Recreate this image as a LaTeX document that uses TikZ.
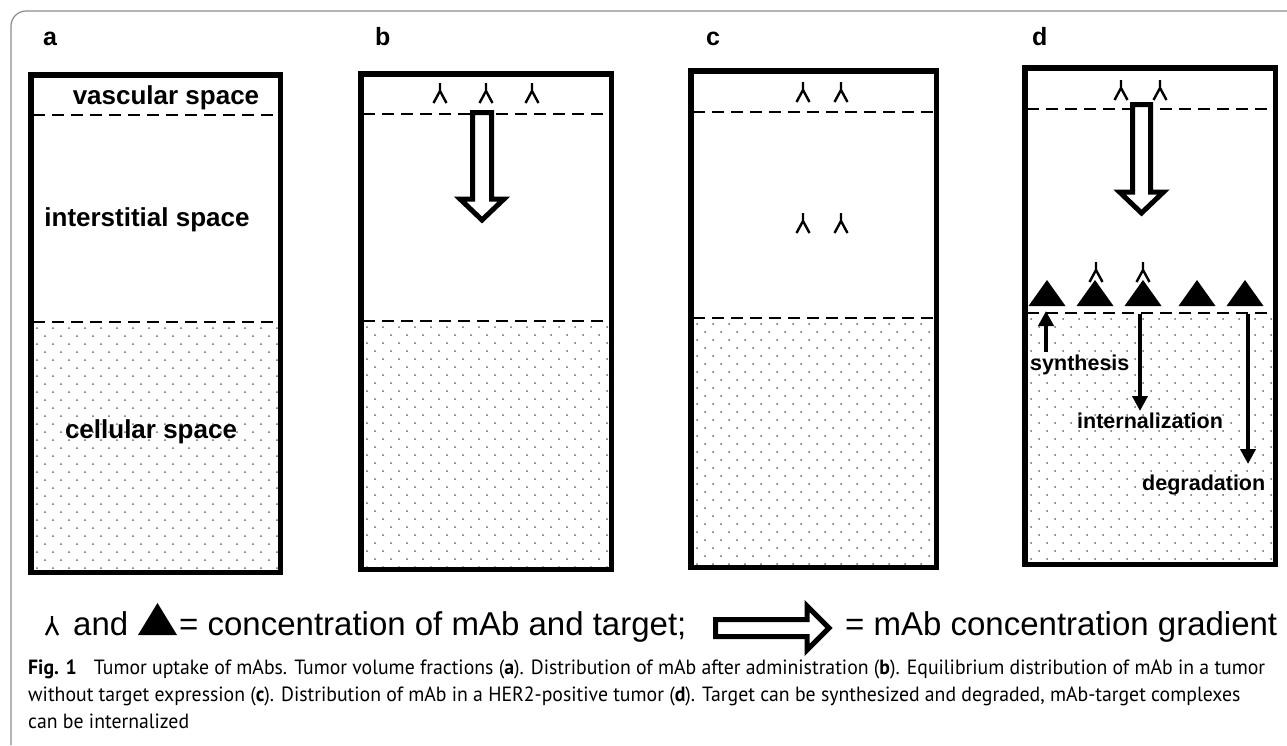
\documentclass[tikz,border=0pt]{standalone}
\usepackage{fontspec}
\setmainfont{Liberation Sans}
\newfontfamily\capfont{PT Sans}
\usetikzlibrary{arrows.meta}
\definecolor{dotc}{gray}{0.4}
\definecolor{framec}{gray}{0.55}
\newcommand\capfontsel{\capfont\fontsize{20.6}{23}\selectfont}
\newcommand\caplineone{\textbf{Fig. 1}\hspace{0.6em} Tumor uptake of mAbs. Tumor volume fractions (\textbf{a}). Distribution of mAb after administration (\textbf{b}). Equilibrium distribution of mAb in a tumor}
\newcommand\caplinetwo{without target expression (\textbf{c}). Distribution of mAb in a HER2-positive tumor (\textbf{d}). Target can be synthesized and degraded, mAb-target complexes}
\newcommand\caplinethree{can be internalized}
\newlength\capw
\tikzset{
  boxline/.style={line width=5.5pt, line join=miter},
  divline/.style={line width=2.6pt, dash pattern=on 12pt off 7pt},
  lbl/.style={font=\bfseries\fontsize{26}{28}\selectfont, inner sep=0pt},
  dlbl/.style={font=\bfseries\fontsize{21.5}{24}\selectfont, inner sep=0pt},
  panel/.style={font=\bfseries\fontsize{25}{28}\selectfont, inner sep=0pt, anchor=base west},
  legend/.style={font=\fontsize{33}{36}\selectfont, inner sep=0pt, anchor=base west},
  captxt/.style={font=\capfontsel, inner sep=0pt, anchor=base west},
  hollow/.style={line width=5pt, line join=miter, miter limit=10, fill=white, draw=black},
  thinarrow/.style={line width=4pt, -{Triangle[length=15pt,width=15pt]}},
  mab/.pic={\draw[line width=2.4pt] (0,0) -- (0,8) (-6.5,20) -- (0,8) -- (6.5,20);},
  target/.pic={\fill (-18.5,0) -- (18.5,0) -- (0,-26) -- cycle;}
}
\newcommand\stippleArea[4]{%
  \begin{scope}
    \clip (#1,#3) rectangle (#2,#4);
    \foreach \r in {0,...,34}{%
      \pgfmathsetmacro\yy{#3+4+8*\r}%
      \pgfmathsetmacro\off{mod(\r,2)*8}%
      \foreach \c in {0,...,17}{%
        \fill[dotc] ({#1+4+\off+16*\c},\yy) circle (1.0);
      }%
    }%
  \end{scope}}
\newcommand\tumorbox[7]{%
  \stippleArea{#1+5}{#2-5}{#6+2}{#4-5}
  \draw[divline] ({#1+5},#5) -- ({#2-5},#5);
  \draw[divline] ({#1+5},#6) -- ({#2-5},#6);
  \draw[boxline] ({#1+2.75},{#3+2.75}) coordinate (#7-nw) rectangle ({#2-2.75},{#4-2.75}) coordinate (#7-se);
}
\begin{document}
\settowidth\capw{\capfontsel\caplineone}%
\pgfmathsetmacro\capscale{1237/\capw}%
\begin{tikzpicture}[x=1pt,y=-1pt]
\useasboundingbox (0,0) rectangle (1287,745);
\fill[white] (0,0) rectangle (1287,745);
% outer frame
\draw[framec, line width=1.2pt, rounded corners=15pt] (11,745) -- (11,11) -- (1287,11);

% panel letters
\node[panel] (la) at (43,45) {a};
\node[panel] (lb) at (375,45) {b};
\node[panel] (lc) at (706,45) {c};
\node[panel] (ld) at (1032,45) {d};

% boxes
\tumorbox{28}{283}{72}{575}{115}{322}{A}
\tumorbox{358}{614}{71}{572}{114}{321}{B}
\tumorbox{688}{939}{68}{570}{112}{318}{C}
\tumorbox{1022}{1278}{65}{567}{109}{313}{D}

% panel a labels
\node[lbl, anchor=base] (vasc) at (166,104) {vascular space};
\node[lbl, anchor=base] (inter) at (147,226) {interstitial space};
\node[lbl, anchor=base] (cell) at (151,438) {cellular space};

% panel b
\pic at (440,83) {mab};
\pic at (486,83) {mab};
\pic at (532,83) {mab};
\draw[hollow] (472.5,112.5) -- (491.5,112.5) -- (491.5,199) -- (504,199) -- (482,220) -- (460,199) -- (472.5,199) -- cycle;

% panel c
\pic at (803,82) {mab};
\pic at (841,82) {mab};
\pic at (803,213) {mab};
\pic at (841,213) {mab};

% panel d
\pic at (1121,80) {mab};
\pic at (1160,80) {mab};
\draw[hollow] (1132.5,104.5) -- (1150.5,104.5) -- (1150.5,192) -- (1163.5,192) -- (1141.5,213) -- (1119.5,192) -- (1132.5,192) -- cycle;
\pic at (1047,306) {target};
\pic at (1095,306) {target};
\pic at (1143,306) {target};
\pic at (1197,306) {target};
\pic at (1245,306) {target};
\pic at (1096,262) {mab};
\pic at (1143,262) {mab};
\coordinate (synA) at (1046,352);
\coordinate (synB) at (1046,311);
\coordinate (intA) at (1140,314);
\coordinate (intB) at (1140,411);
\coordinate (degA) at (1248,314);
\coordinate (degB) at (1248,464);
\draw[thinarrow] (synA) -- (synB);
\draw[thinarrow] (intA) -- (intB);
\draw[thinarrow] (degA) -- (degB);
\node[dlbl, anchor=base west] (syn) at (1030,370) {synthesis};
\node[dlbl, anchor=base west] (intl) at (1077,428) {internalization};
\node[dlbl, anchor=base west] (deg) at (1142,490) {degradation};

% legend
\draw[line width=2.4pt] (52,616) -- (52,623) (46,635) -- (52,623) -- (58,635);
\node[legend] (land) at (73,635) {and};
\fill (138,635) -- (177,635) -- (157.5,603) -- cycle;
\node[legend] (lconc) at (179,635) {= concentration of mAb and target;};
\draw[hollow] (715.5,619.5) -- (807,619.5) -- (807,606) -- (829,628) -- (807,650) -- (807,636.5) -- (715.5,636.5) -- cycle;
\node[legend] (lgrad) at (845,635) {= mAb concentration gradient};

% caption
\node[captxt] (cap1) at (28,674) {\scalebox{\capscale}[1]{\caplineone}};
\node[captxt] (cap2) at (28,701) {\scalebox{\capscale}[1]{\caplinetwo}};
\node[captxt] (cap3) at (28,728) {\scalebox{\capscale}[1]{\caplinethree}};
\end{tikzpicture}
\end{document}
